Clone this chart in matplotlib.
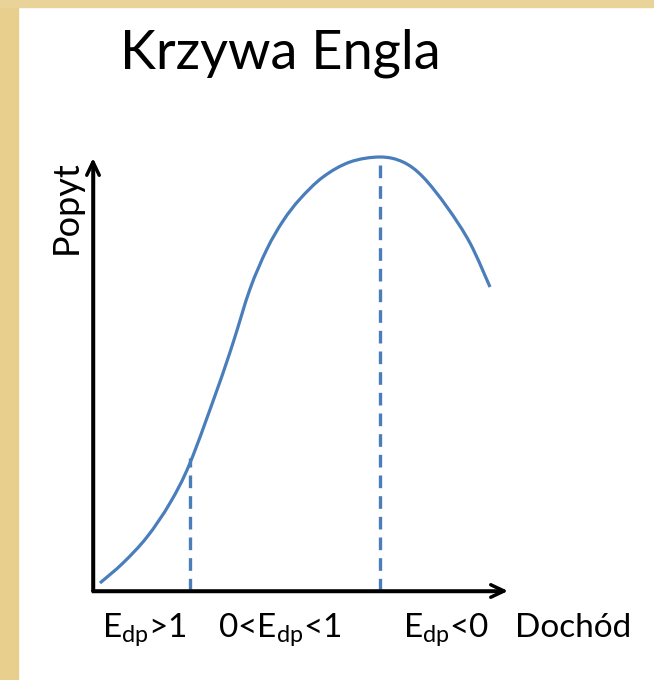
import numpy as np
import matplotlib
matplotlib.use('Agg')
import matplotlib.pyplot as plt
from matplotlib.patches import Rectangle, PathPatch
from matplotlib.path import Path

plt.rcParams['font.family'] = ['Lato', 'DejaVu Sans']
plt.rcParams['mathtext.fontset'] = 'custom'
plt.rcParams['mathtext.rm'] = 'Lato'
plt.rcParams['mathtext.it'] = 'Lato:italic'

# Engel curve (income -> demand, arbitrary units)
income = [7, 30, 54, 77, 97, 124, 140, 157, 174, 190, 207, 230, 257,
          287, 310, 330, 354, 377, 397]
demand = [8, 28, 54, 88, 128, 201, 248, 302, 342, 370, 392, 414, 429,
          434, 429, 414, 384, 348, 304]

# boundaries between elasticity regions
bounds_x = [97, 287]
bounds_top = [133, 426]

region_labels = [r'E$_{\mathrm{dp}}$>1', r'0<E$_{\mathrm{dp}}$<1', r'E$_{\mathrm{dp}}$<0']
region_x = [51, 187, 353]

title = 'Krzywa Engla'
xlabel = 'Dochód'
ylabel = 'Popyt'

blue = '#4a7ebb'


def smooth_path(xs, ys):
    # cubic bezier segments through the points (Catmull-Rom tangents)
    p = np.column_stack([xs, ys]).astype(float)
    verts = [p[0]]
    codes = [Path.MOVETO]
    for i in range(len(p) - 1):
        p0 = p[i - 1] if i > 0 else p[i]
        p3 = p[i + 2] if i + 2 < len(p) else p[i + 1]
        c1 = p[i] + (p[i + 1] - p0) / 6
        c2 = p[i + 1] - (p3 - p[i]) / 6
        verts += [c1, c2, p[i + 1]]
        codes += [Path.CURVE4] * 3
    return Path(verts, codes)


fig = plt.figure(figsize=(6.54, 6.80), dpi=100)
fig.patch.set_facecolor('white')
# beige frame strips
fig.patches.append(Rectangle((0, 0), 18 / 654, 1, transform=fig.transFigure,
                             color='#e8cf8e', zorder=0))
fig.patches.append(Rectangle((0, 1 - 7 / 680), 1, 7 / 680, transform=fig.transFigure,
                             color='#ead398', zorder=0))

ax = fig.add_axes([0, 0, 1, 1])
ax.set_xlim(-93, 561)
ax.set_ylim(-89, 591)
ax.axis('off')
ax.patch.set_alpha(0)

# axes with arrow heads
x_tip, y_tip = 415, 433
ax.plot([0, 0, x_tip - 8], [y_tip - 8, 0, 0], color='black', lw=2.5,
        solid_joinstyle='miter', solid_capstyle='butt')
arrow = dict(arrowstyle='->,head_length=0.95,head_width=0.45', lw=2.5,
             color='black', shrinkA=0, shrinkB=0)
ax.annotate('', xy=(x_tip, 0), xytext=(0, 0), arrowprops=arrow)
ax.annotate('', xy=(0, y_tip), xytext=(0, 0), arrowprops=arrow)

ax.add_patch(PathPatch(smooth_path(income, demand), facecolor='none',
                       edgecolor=blue, lw=2.3, capstyle='butt'))
for bx, top in zip(bounds_x, bounds_top):
    ax.plot([bx, bx], [0, top], color=blue, lw=2.4, dashes=(3.8, 2.4))

ax.text(187, 522, title, fontsize=39, ha='center', va='baseline')
for lab, lx in zip(region_labels, region_x):
    ax.text(lx, -46, lab, fontsize=24, ha='center', va='baseline')
ax.text(480, -46, xlabel, fontsize=24, ha='center', va='baseline')
ax.text(-27, 384, ylabel, fontsize=26, rotation=90, ha='center', va='center')

fig.savefig('out.png', dpi=100, facecolor='white')
